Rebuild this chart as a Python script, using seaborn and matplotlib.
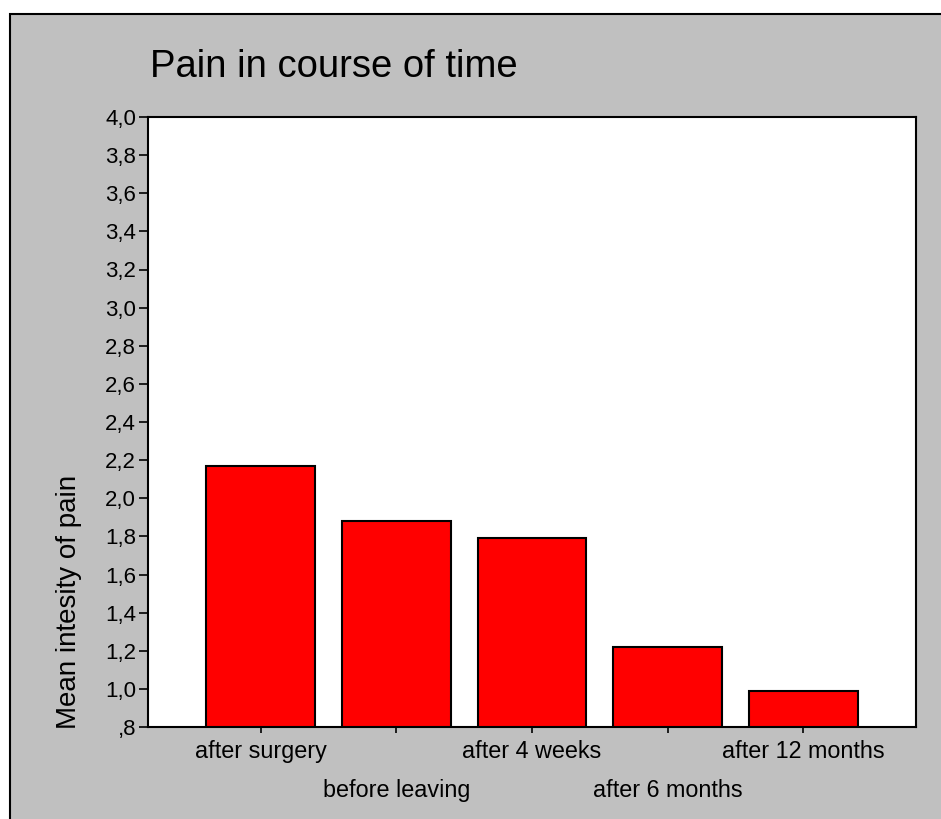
import matplotlib
matplotlib.use("Agg")
import matplotlib.pyplot as plt
from matplotlib.patches import Rectangle
from matplotlib.ticker import FuncFormatter
import seaborn as sns
import pandas as pd

# Mean pain intensity at each follow-up point
categories = ["after surgery", "before leaving", "after 4 weeks", "after 6 months", "after 12 months"]
mean_pain = [2.17, 1.88, 1.79, 1.22, 0.99]
y_ticks = [0.8, 1.0, 1.2, 1.4, 1.6, 1.8, 2.0, 2.2, 2.4, 2.6, 2.8, 3.0, 3.2, 3.4, 3.6, 3.8, 4.0]

sns.set_theme(style="white")
plt.rcParams["font.family"] = ["Liberation Sans", "DejaVu Sans"]

W, H = 941, 819
fig = plt.figure(figsize=(W / 100, H / 100), dpi=100)
fig.patch.set_facecolor("white")

# grey chart panel with a black frame
fig.patches.append(Rectangle((10 / W, -0.05), 1.1, (H - 14) / H + 0.05,
                             transform=fig.transFigure, facecolor="#c0c0c0",
                             edgecolor="black", linewidth=1.5, zorder=-10))

left, right, top, bottom = 148, 916, 117, 727
ax = fig.add_axes([left / W, (H - bottom) / H, (right - left) / W, (bottom - top) / H])
ax.set_facecolor("white")

df = pd.DataFrame({"time": categories, "pain": mean_pain})
sns.barplot(data=df, x="time", y="pain", color="#ff0000", saturation=1,
            edgecolor="black", linewidth=1.5, width=0.8, ax=ax)

ax.set_ylim(0.8, 4.0)
ax.set_xlim(-0.83, len(categories) - 1 + 0.83)
ax.set_yticks(y_ticks)
ax.yaxis.set_major_formatter(FuncFormatter(
    lambda v, p: f"{v:.1f}".replace(".", ",").lstrip("0")))

for side in ["left", "right", "top", "bottom"]:
    ax.spines[side].set_visible(True)
    ax.spines[side].set_color("black")
    ax.spines[side].set_linewidth(1.5)

ax.tick_params(axis="both", which="major", direction="out", width=1.2,
               colors="black", left=True, bottom=True)
ax.tick_params(axis="y", length=6.5, pad=2, labelsize=16)
ax.tick_params(axis="x", length=4.5, labelsize=16.8)
ax.set_xlabel("")
ax.set_ylabel("")

# staggered category labels on two rows
for i, t in enumerate(ax.xaxis.get_major_ticks()):
    t.set_pad(5 if i % 2 == 0 else 33)

fig.text(150 / W, 1 - 67 / H, "Pain in course of time", fontsize=27.5,
         ha="left", va="center", color="black")
fig.text(69 / W, 1 - 602 / H, "Mean intesity of pain", fontsize=20,
         rotation=90, ha="center", va="center", color="black")

fig.savefig("out.png", dpi=100)
